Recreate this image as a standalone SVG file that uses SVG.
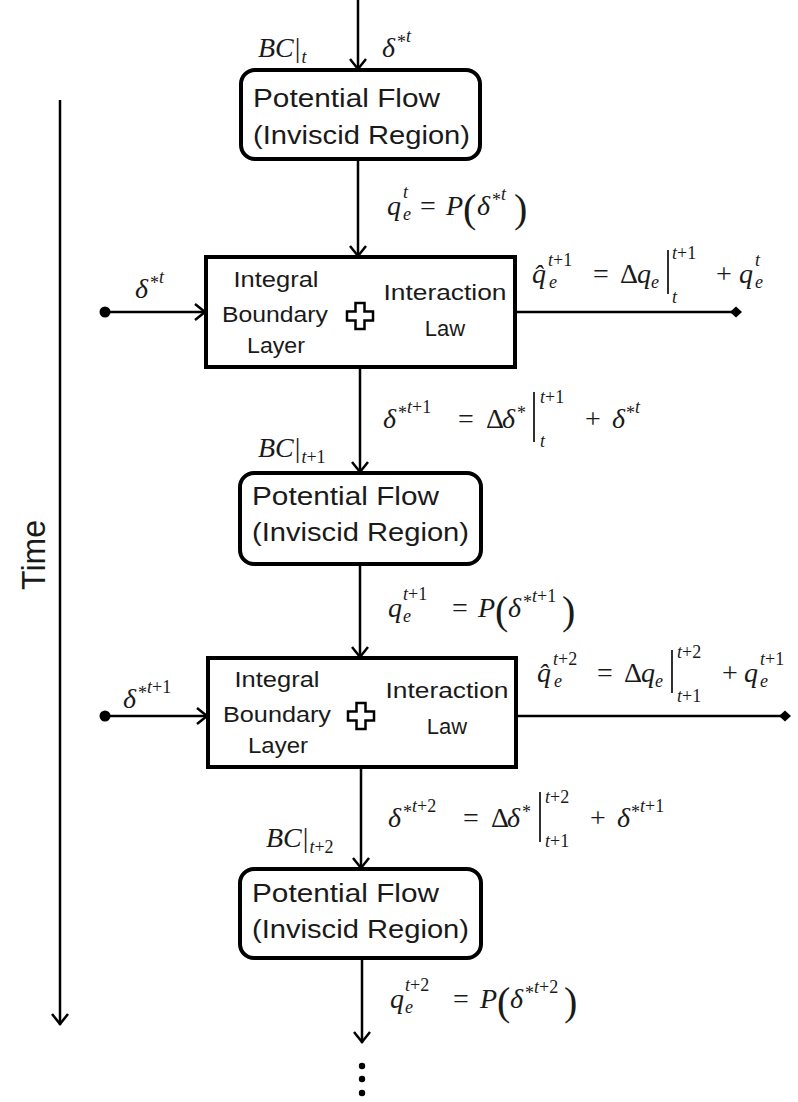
<svg xmlns="http://www.w3.org/2000/svg" width="798" height="1102" viewBox="0 0 798 1102">
<style>
.box{fill:#fff;stroke:#000;stroke-width:4}
.cn{fill:none;stroke:#000;stroke-width:2.5}
.sans{font-family:"Liberation Sans",Arial,sans-serif;fill:#1a1a1a}
.pf{font-size:25px}
.ib{font-size:22px}
.m{font-family:"Liberation Serif","DejaVu Serif",serif;font-size:28px;font-style:italic;fill:#1a1a1a}
.u{font-style:normal}
.s{font-size:18px}
.par{font-size:40px;font-style:normal}
.bar{stroke:#1a1a1a;stroke-width:1.8}
.plus{fill:#fff;stroke:#000;stroke-width:2.5}
</style>
<defs>
<marker id="arr" viewBox="-12 -10 14 20" refX="1" refY="0" markerWidth="14" markerHeight="20" markerUnits="userSpaceOnUse" orient="auto"><path d="M-10,-8 L0,0 L-10,8" fill="none" stroke="#000" stroke-width="2.5"/></marker>
<marker id="dot" viewBox="-7 -7 14 14" refX="0" refY="0" markerWidth="14" markerHeight="14" markerUnits="userSpaceOnUse"><circle r="5.5" fill="#000"/></marker>
<marker id="dia" viewBox="-8 -7 16 14" refX="0" refY="0" markerWidth="16" markerHeight="14" markerUnits="userSpaceOnUse" orient="auto"><path d="M-6,0 L0,-5.5 L6,0 L0,5.5 Z" fill="#000"/></marker>
<path id="plusShape" d="M-4.5,-13 h9 v8.5 h8.5 v9 h-8.5 v8.5 h-9 v-8.5 h-8.5 v-9 h8.5 z"/>
</defs>

<g id="connectors">
<path class="cn" d="M358,0 V70" marker-end="url(#arr)"/>
<path class="cn" d="M358,159 V257" marker-end="url(#arr)"/>
<path class="cn" d="M360,367 V473" marker-end="url(#arr)"/>
<path class="cn" d="M360,564 V658" marker-end="url(#arr)"/>
<path class="cn" d="M361,767 V869" marker-end="url(#arr)"/>
<path class="cn" d="M362,958 V1043" marker-end="url(#arr)"/>
<path class="cn" d="M105,312 H206" marker-start="url(#dot)" marker-end="url(#arr)"/>
<path class="cn" d="M515,312 H736" marker-end="url(#dia)"/>
<path class="cn" d="M105,716 H208" marker-start="url(#dot)" marker-end="url(#arr)"/>
<path class="cn" d="M516,716 H785" marker-end="url(#dia)"/>
<circle cx="362" cy="1066" r="3.2" fill="#000"/>
<circle cx="362" cy="1079" r="3.2" fill="#000"/>
<circle cx="362" cy="1093" r="3.2" fill="#000"/>
</g>

<g id="time-axis">
<path class="cn" d="M60,100 V1025" marker-end="url(#arr)"/>
<text class="sans" font-size="34" text-anchor="middle" transform="translate(45,555) rotate(-90)" textLength="70" lengthAdjust="spacingAndGlyphs">Time</text>
</g>

<g id="pf1">
<rect class="box" x="241" y="70" width="239" height="89" rx="14"/>
<text class="sans pf" x="253" y="107" textLength="187" lengthAdjust="spacingAndGlyphs">Potential Flow</text>
<text class="sans pf" x="253" y="144" textLength="217" lengthAdjust="spacingAndGlyphs">(Inviscid Region)</text>
</g>

<g id="ibl1">
<rect class="box" x="206" y="257" width="309" height="110"/>
<text class="sans ib" x="276" y="287" text-anchor="middle" textLength="85" lengthAdjust="spacingAndGlyphs">Integral</text>
<text class="sans ib" x="275" y="322" text-anchor="middle" textLength="106" lengthAdjust="spacingAndGlyphs">Boundary</text>
<text class="sans ib" x="276" y="353" text-anchor="middle" textLength="58" lengthAdjust="spacingAndGlyphs">Layer</text>
<use href="#plusShape" class="plus" transform="translate(360,316)"/>
<text class="sans ib" x="445" y="300" text-anchor="middle" textLength="123" lengthAdjust="spacingAndGlyphs">Interaction</text>
<text class="sans ib" x="445" y="336" text-anchor="middle">Law</text>
</g>

<g id="pf2">
<rect class="box" x="240" y="473" width="241" height="91" rx="14"/>
<text class="sans pf" x="252" y="505" textLength="187" lengthAdjust="spacingAndGlyphs">Potential Flow</text>
<text class="sans pf" x="252" y="541" textLength="217" lengthAdjust="spacingAndGlyphs">(Inviscid Region)</text>
</g>

<g id="ibl2">
<rect class="box" x="208" y="658" width="308" height="109"/>
<text class="sans ib" x="277" y="687" text-anchor="middle" textLength="85" lengthAdjust="spacingAndGlyphs">Integral</text>
<text class="sans ib" x="277" y="722" text-anchor="middle" textLength="108" lengthAdjust="spacingAndGlyphs">Boundary</text>
<text class="sans ib" x="278" y="753" text-anchor="middle" textLength="60" lengthAdjust="spacingAndGlyphs">Layer</text>
<use href="#plusShape" class="plus" transform="translate(361,716)"/>
<text class="sans ib" x="447" y="698" text-anchor="middle" textLength="123" lengthAdjust="spacingAndGlyphs">Interaction</text>
<text class="sans ib" x="447" y="734" text-anchor="middle">Law</text>
</g>

<g id="pf3">
<rect class="box" x="240" y="869" width="241" height="89" rx="14"/>
<text class="sans pf" x="252" y="902" textLength="187" lengthAdjust="spacingAndGlyphs">Potential Flow</text>
<text class="sans pf" x="252" y="938" textLength="217" lengthAdjust="spacingAndGlyphs">(Inviscid Region)</text>
</g>

<g id="labels">
<!-- BC|t and delta*t at top -->
<text class="m"><tspan x="258" y="57">BC</tspan><tspan class="u" dx="1">|</tspan><tspan class="s" dx="1" dy="6">t</tspan></text>
<text class="m"><tspan x="382" y="57">δ</tspan><tspan class="s u" x="397" y="48">*</tspan><tspan class="s" x="406" y="42">t</tspan></text>

<!-- F1 -->
<text class="m"><tspan x="387" y="215">q</tspan><tspan class="s" x="403" y="198">t</tspan><tspan class="s" x="403" y="220">e</tspan><tspan class="u" x="420" y="215">=</tspan><tspan x="446" y="215">P</tspan><tspan class="par" x="463" y="222">(</tspan><tspan x="477" y="215">δ</tspan><tspan class="s u" x="492" y="206">*</tspan><tspan class="s" x="501" y="200">t</tspan><tspan class="par" x="514" y="222">)</tspan></text>

<!-- input delta*t -->
<text class="m"><tspan x="135" y="298">δ</tspan><tspan class="s u" x="150" y="289">*</tspan><tspan class="s" x="159" y="283">t</tspan></text>

<!-- F2 -->
<text class="m"><tspan x="532" y="283">q&#x302;</tspan><tspan class="s" x="548" y="266">t</tspan><tspan class="s u">+1</tspan><tspan class="s" x="549" y="288">e</tspan><tspan class="u" x="593" y="283">=</tspan><tspan class="u" x="620" y="283">Δ</tspan><tspan x="637" y="283">q</tspan><tspan class="s" x="651" y="288">e</tspan><tspan class="s" x="672" y="259">t</tspan><tspan class="s u">+1</tspan><tspan class="s" x="672" y="303">t</tspan><tspan class="u" x="716" y="283">+</tspan><tspan x="739" y="283">q</tspan><tspan class="s" x="755" y="266">t</tspan><tspan class="s" x="755" y="288">e</tspan></text>
<line class="bar" x1="668" y1="250" x2="668" y2="294"/>

<!-- F3 -->
<text class="m"><tspan x="383" y="428">δ</tspan><tspan class="s u" x="398" y="419">*</tspan><tspan class="s" x="407" y="413">t</tspan><tspan class="s u">+1</tspan><tspan class="u" x="458" y="428">=</tspan><tspan class="u" x="486" y="428">Δ</tspan><tspan x="502" y="428">δ</tspan><tspan class="s u" x="517" y="419">*</tspan><tspan class="s" x="540" y="403">t</tspan><tspan class="s u">+1</tspan><tspan class="s" x="540" y="447">t</tspan><tspan class="u" x="585" y="428">+</tspan><tspan x="612" y="428">δ</tspan><tspan class="s u" x="626" y="419">*</tspan><tspan class="s" x="635" y="413">t</tspan></text>
<line class="bar" x1="534" y1="392" x2="534" y2="442"/>

<!-- BC|t+1 -->
<text class="m"><tspan x="258" y="457">BC</tspan><tspan class="u" dx="1">|</tspan><tspan class="s" dx="1" dy="6">t</tspan><tspan class="s u">+1</tspan></text>

<!-- F4 -->
<text class="m"><tspan x="388" y="617">q</tspan><tspan class="s" x="403" y="600">t</tspan><tspan class="s u">+1</tspan><tspan class="s" x="403" y="622">e</tspan><tspan class="u" x="452" y="617">=</tspan><tspan x="478" y="617">P</tspan><tspan class="par" x="495" y="624">(</tspan><tspan x="508" y="617">δ</tspan><tspan class="s u" x="523" y="608">*</tspan><tspan class="s" x="532" y="602">t</tspan><tspan class="s u">+1</tspan><tspan class="par" x="562" y="624">)</tspan></text>

<!-- input delta*t+1 -->
<text class="m"><tspan x="123" y="708">δ</tspan><tspan class="s u" x="138" y="699">*</tspan><tspan class="s" x="147" y="693">t</tspan><tspan class="s u">+1</tspan></text>

<!-- F5 -->
<text class="m"><tspan x="537" y="682">q&#x302;</tspan><tspan class="s" x="553" y="665">t</tspan><tspan class="s u">+2</tspan><tspan class="s" x="554" y="687">e</tspan><tspan class="u" x="597" y="682">=</tspan><tspan class="u" x="624" y="682">Δ</tspan><tspan x="641" y="682">q</tspan><tspan class="s" x="655" y="687">e</tspan><tspan class="s" x="677" y="658">t</tspan><tspan class="s u">+2</tspan><tspan class="s" x="677" y="702">t</tspan><tspan class="s u">+1</tspan><tspan class="u" x="722" y="682">+</tspan><tspan x="744" y="682">q</tspan><tspan class="s" x="760" y="665">t</tspan><tspan class="s u">+1</tspan><tspan class="s" x="760" y="687">e</tspan></text>
<line class="bar" x1="672" y1="650" x2="672" y2="693"/>

<!-- F6 -->
<text class="m"><tspan x="388" y="827">δ</tspan><tspan class="s u" x="403" y="818">*</tspan><tspan class="s" x="412" y="812">t</tspan><tspan class="s u">+2</tspan><tspan class="u" x="463" y="827">=</tspan><tspan class="u" x="491" y="827">Δ</tspan><tspan x="507" y="827">δ</tspan><tspan class="s u" x="522" y="818">*</tspan><tspan class="s" x="545" y="803">t</tspan><tspan class="s u">+2</tspan><tspan class="s" x="545" y="847">t</tspan><tspan class="s u">+1</tspan><tspan class="u" x="590" y="827">+</tspan><tspan x="617" y="827">δ</tspan><tspan class="s u" x="631" y="818">*</tspan><tspan class="s" x="640" y="812">t</tspan><tspan class="s u">+1</tspan></text>
<line class="bar" x1="540" y1="792" x2="540" y2="842"/>

<!-- BC|t+2 -->
<text class="m"><tspan x="266" y="847">BC</tspan><tspan class="u" dx="1">|</tspan><tspan class="s" dx="1" dy="6">t</tspan><tspan class="s u">+2</tspan></text>

<!-- F7 -->
<text class="m"><tspan x="390" y="1008">q</tspan><tspan class="s" x="405" y="991">t</tspan><tspan class="s u">+2</tspan><tspan class="s" x="405" y="1013">e</tspan><tspan class="u" x="453" y="1008">=</tspan><tspan x="480" y="1008">P</tspan><tspan class="par" x="497" y="1015">(</tspan><tspan x="510" y="1008">δ</tspan><tspan class="s u" x="525" y="999">*</tspan><tspan class="s" x="534" y="993">t</tspan><tspan class="s u">+2</tspan><tspan class="par" x="564" y="1015">)</tspan></text>
</g>
</svg>
